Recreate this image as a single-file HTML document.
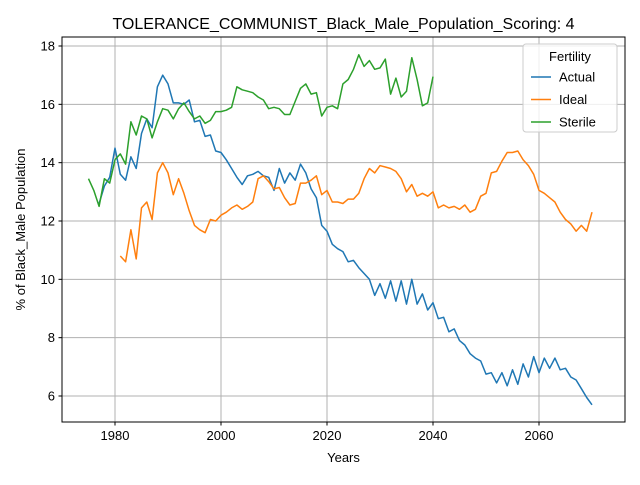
<!DOCTYPE html>
<html><head><meta charset="utf-8"><style>
body{margin:0;background:#fff}
svg text{font-family:"Liberation Sans","DejaVu Sans",sans-serif;fill:#000}
</style></head><body>
<svg id="chart" width="640" height="480" xmlns="http://www.w3.org/2000/svg">
<rect width="640" height="480" fill="#fff"/>
<g id="grid"></g>
<g id="series"></g>
<rect x="62" y="37" width="563" height="385" fill="none" stroke="#000" stroke-width="1"/>
<g id="ticks"></g>
<text x="343.5" y="29" font-size="16" text-anchor="middle">TOLERANCE_COMMUNIST_Black_Male_Population_Scoring: 4</text>
<text x="343.5" y="462" font-size="13" text-anchor="middle">Years</text>
<text transform="translate(25,229.5) rotate(-90)" font-size="13" text-anchor="middle">% of Black_Male Population</text>
<g>
<rect x="523" y="44" width="94" height="88" rx="3" fill="#fff" fill-opacity="0.8" stroke="#ccc"/>
<text x="570" y="61" font-size="13" text-anchor="middle">Fertility</text>
<g id="legend-entries"></g>
</g>
</svg>
<script>
const actualStart = 1977;
const actualValues = [12.6,13.2,13.5,14.5,13.6,13.4,14.2,13.8,15.0,15.5,15.2,16.6,17.0,16.7,16.05,16.05,16.0,16.15,15.4,15.45,14.9,14.95,14.4,14.35,14.1,13.8,13.5,13.25,13.55,13.6,13.7,13.55,13.5,13.05,13.8,13.3,13.65,13.4,13.95,13.65,13.1,12.8,11.85,11.65,11.2,11.05,10.95,10.6,10.65,10.4,10.2,10.0,9.45,9.85,9.35,9.95,9.25,9.95,9.15,10.0,9.15,9.5,8.95,9.2,8.65,8.7,8.2,8.3,7.9,7.75,7.45,7.3,7.2,6.75,6.8,6.45,6.8,6.35,6.9,6.4,7.1,6.65,7.35,6.8,7.3,6.95,7.3,6.9,6.95,6.65,6.55,6.25,5.95,5.7];
const idealStart = 1981;
const idealValues = [10.8,10.6,11.7,10.7,12.45,12.65,12.05,13.65,14.0,13.65,12.9,13.45,12.95,12.35,11.85,11.7,11.6,12.05,12.0,12.2,12.3,12.45,12.55,12.4,12.5,12.65,13.45,13.55,13.35,13.1,13.15,12.8,12.55,12.6,13.3,13.3,13.4,13.55,12.9,13.05,12.65,12.65,12.6,12.75,12.75,12.95,13.45,13.8,13.65,13.9,13.85,13.8,13.7,13.45,13.0,13.25,12.85,12.95,12.85,13.0,12.45,12.55,12.45,12.5,12.4,12.55,12.3,12.4,12.85,12.95,13.65,13.7,14.05,14.35,14.35,14.4,14.1,13.9,13.6,13.05,12.95,12.8,12.65,12.3,12.05,11.9,11.65,11.85,11.65,12.3];
const sterileStart = 1975;
const sterileValues = [13.45,13.05,12.5,13.45,13.3,14.1,14.3,13.95,15.4,14.95,15.6,15.5,14.85,15.4,15.85,15.8,15.5,15.85,16.05,15.75,15.5,15.6,15.35,15.45,15.75,15.75,15.8,15.9,16.6,16.5,16.45,16.4,16.25,16.15,15.85,15.9,15.85,15.65,15.65,16.1,16.55,16.7,16.35,16.4,15.6,15.9,15.95,15.85,16.7,16.85,17.2,17.7,17.3,17.5,17.2,17.25,17.55,16.35,16.9,16.25,16.45,17.6,16.85,15.95,16.05,16.95];
const xTicks = [1980,2000,2020,2040,2060];
const yTicks = [6,8,10,12,14,16,18];
const seriesNames = ["Actual","Ideal","Sterile"];

const NS="http://www.w3.org/2000/svg";
const xs = y => 115 + (y-1980)*5.3;
const ys = v => 396 - (v-6)*(350/12);
function mk(tag, attrs, parent){const e=document.createElementNS(NS,tag);for(const k in attrs)e.setAttribute(k,attrs[k]);parent.appendChild(e);return e;}
const grid=document.getElementById('grid'), ticks=document.getElementById('ticks'), ser=document.getElementById('series'), leg=document.getElementById('legend-entries');
xTicks.forEach(t=>{
  const x=xs(t);
  const g=mk('line',{x1:x,x2:x,y1:37,y2:422,stroke:'#b0b0b0','stroke-width':1},grid);
  
  
  mk('line',{x1:x,x2:x,y1:422,y2:425.5,stroke:'#000'},ticks);
  const tx=mk('text',{x:x,y:440,'font-size':13,'text-anchor':'middle'},ticks);tx.textContent=t;
  
  
});
yTicks.forEach(t=>{
  const y=ys(t);
  const g=mk('line',{x1:62,x2:625,y1:y,y2:y,stroke:'#b0b0b0','stroke-width':1},grid);
  
  
  mk('line',{x1:58.5,x2:62,y1:y,y2:y,stroke:'#000'},ticks);
  const tx=mk('text',{x:55,y:y+4.5,'font-size':13,'text-anchor':'end'},ticks);tx.textContent=t;
  
  
});
const colors=['#1f77b4','#ff7f0e','#2ca02c'];
[[actualStart,actualValues],[idealStart,idealValues],[sterileStart,sterileValues]].forEach((s,i)=>{
  const pts=s[1].map((v,j)=>xs(s[0]+j).toFixed(1)+','+ys(v).toFixed(1)).join(' ');
  const p=mk('polyline',{points:pts,fill:'none',stroke:colors[i],'stroke-width':1.5,'stroke-linejoin':'round'},ser);
  
  
  const y=77+i*22.5;
  const l=mk('line',{x1:531,x2:551,y1:y,y2:y,stroke:colors[i],'stroke-width':1.5},leg);
  
  
  const t=mk('text',{x:559,y:y+4.5,'font-size':13},leg);t.textContent=seriesNames[i];
  
  
});
</script>
</body></html>
